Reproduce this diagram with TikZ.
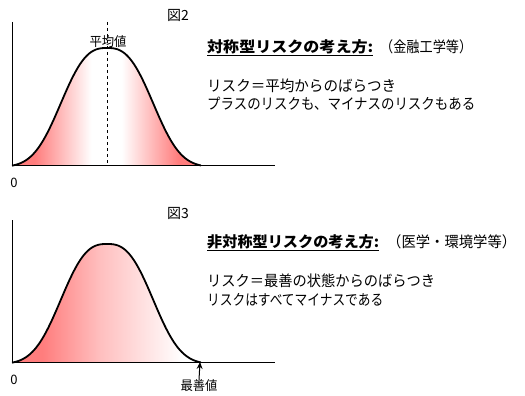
\documentclass[tikz,border=0pt]{standalone}
\usepackage{fontspec}
\setmainfont{Noto Sans CJK JP}
\usepackage{graphicx}
\usetikzlibrary{arrows.meta}
\definecolor{rr}{RGB}{255,125,125}
\definecolor{pk}{RGB}{255,190,190}
\pgfdeclarehorizontalshading{symmshade}{100bp}{color(0bp)=(rr); color(31bp)=(rr); color(46bp)=(white); color(54bp)=(white); color(69bp)=(rr); color(100bp)=(rr)}
\pgfdeclarehorizontalshading{asymshade}{100bp}{color(0bp)=(rr); color(33bp)=(rr); color(48bp)=(pk); color(70bp)=(white); color(100bp)=(white)}
\newcommand\fw[2]{\resizebox{#1}{\height}{#2}}
\tikzset{
  txt/.style={inner sep=0pt, anchor=west, font=\fontsize{15}{16}\selectfont},
  ttl/.style={inner sep=0pt, anchor=west, font=\fontsize{15}{16}\bfseries\selectfont},
  small/.style={inner sep=0pt, font=\fontsize{13}{14}\selectfont},
  axisline/.style={line width=1pt, black},
  bell/.style={line width=1.8pt, black},
  meanline/.style={line width=0.7pt, dash pattern=on 3pt off 3pt},
  uline/.style={line width=1pt},
}
% bell shape: generalised Gaussian, tail removed so that it meets the axis
\newcommand\bellf[1]{(exp(-(abs(#1)/55)^2.7)-0.018)/0.982}
\begin{document}
\begin{tikzpicture}[x=1pt,y=-1pt]
\useasboundingbox (0,0) rectangle (525,396);
% ---------- top figure ----------
\coordinate (y1) at (12,22);
\coordinate (o1) at (12,165);
\coordinate (x1) at (275,165);
\coordinate (dtop) at (107,22);
\coordinate (dbot) at (107,165);
\shade[shading=symmshade] plot[domain=-95:94, samples=120] ({107+\x},{165-117*\bellf{\x}}) -- cycle;
\draw[meanline] (dtop) -- (dbot);
\draw[axisline] (y1) -- (o1) -- (x1);
\draw[bell] plot[domain=-95:94, samples=120, smooth] ({107+\x},{165-117*\bellf{\x}});
\node[small] (mean) at (108,42) {\fw{37pt}{平均値}};
\node[small, font=\fontsize{14}{15}\selectfont] (fig2) at (178,15) {図2};
\node[small] (zero1) at (14,183) {0};
\node[ttl] (t1) at (207,47) {\fw{166pt}{対称型リスクの考え方:}};
\draw[uline] ([yshift=-2.5pt]t1.base west) -- ([yshift=-2.5pt]t1.base east);
\node[txt] (t1b) at (380,47) {\fw{92pt}{（金融工学等）}};
\node[txt] (l1) at (207,86) {\fw{189pt}{リスク＝平均からのばらつき}};
\node[txt] (l2) at (207,104) {\fw{268pt}{プラスのリスクも、マイナスのリスクもある}};
% ---------- bottom figure ----------
\coordinate (y2) at (12,220);
\coordinate (o2) at (12,362);
\coordinate (x2) at (275,362);
\coordinate (bp) at (200,362);
\shade[shading=asymshade] plot[domain=-95:94, samples=120] ({107+\x},{362-118*\bellf{\x}}) -- cycle;
\draw[axisline] (y2) -- (o2) -- (x2);
\draw[bell] plot[domain=-95:94, samples=120, smooth] ({107+\x},{362-118*\bellf{\x}});
\node[small, font=\fontsize{14}{15}\selectfont] (fig3) at (178,213) {図3};
\node[small] (zero2) at (14,380) {0};
\node[small] (best) at (199,386) {\fw{37pt}{最善値}};
\draw[line width=1pt, -{Stealth[length=7pt,width=6pt]}] (best.north) -- (bp);
\node[ttl] (t2) at (207,242) {\fw{172pt}{非対称型リスクの考え方:}};
\draw[uline] ([yshift=-2.5pt]t2.base west) -- ([yshift=-2.5pt]t2.base east);
\node[txt] (t2b) at (387,242) {\fw{129pt}{（医学・環境学等）}};
\node[txt] (l3) at (207,281) {\fw{228pt}{リスク＝最善の状態からのばらつき}};
\node[txt] (l4) at (207,300) {\fw{176pt}{リスクはすべてマイナスである}};
\end{tikzpicture}
\end{document}
